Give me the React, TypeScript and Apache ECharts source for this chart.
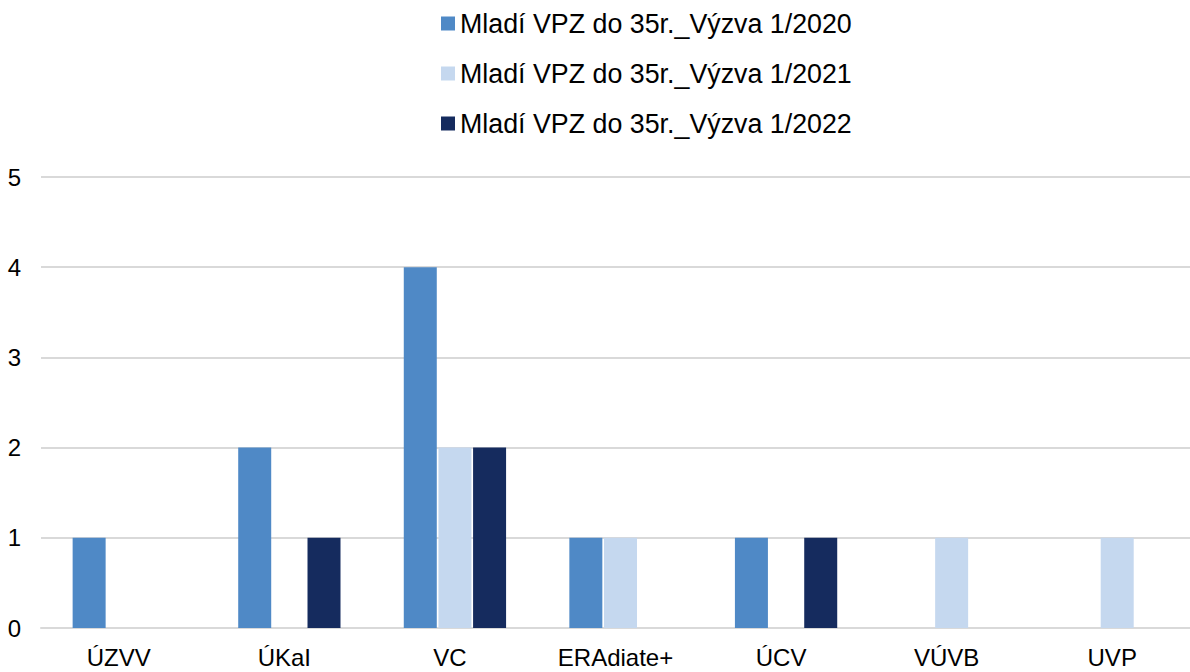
import React, { useEffect, useRef } from "react";
import * as echarts from "echarts";

const categories = ["ÚZVV", "ÚKaI", "VC", "ERAdiate+", "ÚCV", "VÚVB", "UVP"];
const seriesNames = [
  "Mladí VPZ do 35r._Výzva 1/2020",
  "Mladí VPZ do 35r._Výzva 1/2021",
  "Mladí VPZ do 35r._Výzva 1/2022",
];
const values2020 = [1, 2, 4, 1, 1, 0, 0];
const values2021 = [0, 0, 2, 1, 0, 1, 1];
const values2022 = [0, 1, 2, 0, 1, 0, 0];
const colors = ["#4f89c6", "#c5d8ef", "#152b5e"];

export default function App() {
  const ref = useRef<HTMLDivElement>(null);
  useEffect(() => {
    if (!ref.current) return;
    const chart = echarts.init(ref.current, undefined, { renderer: "svg" });
    const font = "'Liberation Sans', Arial, sans-serif";
    const data = [values2020, values2021, values2022];
    chart.setOption({
      animation: false,
      backgroundColor: "#ffffff",
      textStyle: { fontFamily: font },
      legend: {
        orient: "vertical",
        left: 441,
        top: 10,
        padding: 0,
        itemWidth: 14,
        itemHeight: 14,
        itemGap: 23,
        icon: "rect",
        textStyle: { fontSize: 26.8, color: "#000000", fontFamily: font },
        data: seriesNames,
      },
      grid: {
        left: 41,
        width: 1159,
        top: 177,
        bottom: 44,
        containLabel: false,
        outerBoundsMode: "none",
      },
      xAxis: {
        type: "category",
        data: categories,
        axisLine: { show: true, lineStyle: { color: "#d9d9d9", width: 2 } },
        axisTick: { show: false },
        axisLabel: {
          fontSize: 24,
          color: "#000000",
          margin: 17,
          fontFamily: font,
          padding: [0, 10, 0, 0],
        },
      },
      yAxis: {
        type: "value",
        min: 0,
        max: 5,
        interval: 1,
        axisLine: { show: false },
        axisTick: { show: false },
        splitLine: { lineStyle: { color: "#d9d9d9", width: 2 } },
        axisLabel: { fontSize: 24, color: "#000000", margin: 20, fontFamily: font },
      },
      series: seriesNames.map((name, i) => ({
        name,
        type: "bar",
        data: data[i],
        barWidth: 33,
        barGap: "5%",
        itemStyle: { color: colors[i] },
      })),
    });
    return () => chart.dispose();
  }, []);
  return (
    <div
      ref={ref}
      style={{ position: "fixed", left: 0, top: 0, width: 1190, height: 672 }}
    />
  );
}
